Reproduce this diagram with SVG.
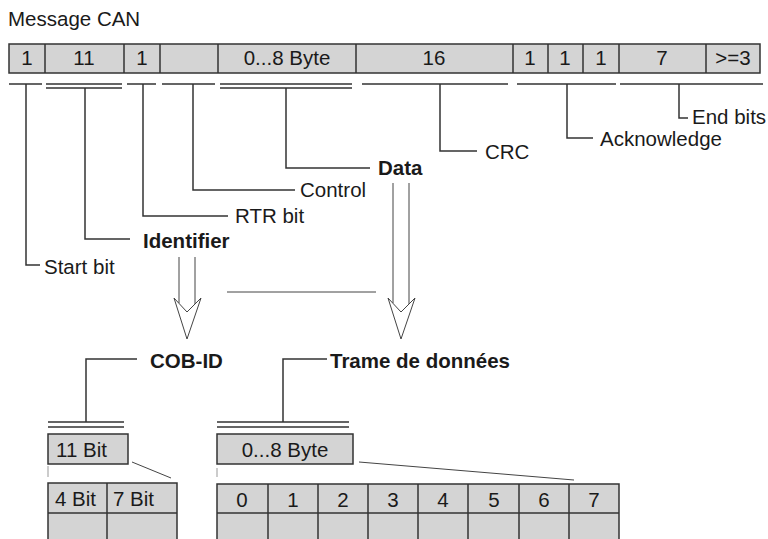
<svg xmlns="http://www.w3.org/2000/svg" width="768" height="539" viewBox="0 0 768 539">
<style>
text{font-family:"Liberation Sans",Arial,sans-serif;font-size:20.5px;fill:#1a1a1a}
.b{font-weight:bold}
.m{text-anchor:middle}
.cell{fill:#d4d4d4;stroke:#333;stroke-width:1.5}
.ln{fill:none;stroke:#333;stroke-width:1.5}
.th{fill:none;stroke:#444;stroke-width:1}
.ar{fill:#fff;stroke:#444;stroke-width:1}
.tk{stroke:#999;stroke-width:1}
</style>
<rect width="768" height="539" fill="#fff"/>
<text x="8" y="26">Message CAN</text>

<g id="frame">
<rect class="cell" x="9" y="44" width="751" height="29"/>
<path class="ln" d="M45 44V73M124 44V73M160 44V73M218 44V73M356 44V73M513 44V73M548 44V73M583 44V73M619 44V73M706 44V73"/>
<text class="m" x="27" y="65">1</text>
<text class="m" x="84" y="65">11</text>
<text class="m" x="142" y="65">1</text>
<text class="m" x="287" y="65">0...8 Byte</text>
<text class="m" x="434" y="65">16</text>
<text class="m" x="530" y="65">1</text>
<text class="m" x="565" y="65">1</text>
<text class="m" x="601" y="65">1</text>
<text class="m" x="662" y="65">7</text>
<text class="m" x="733" y="65">&gt;=3</text>
</g>

<g id="connectors">
<path class="ln" d="M9 84H42M46 84H122M46 88H122M127 84H156M162 84H215M220 84H352M220 88H352M362 84H508M517 84H616M620 84H763"/>
<path class="ln" d="M26 84V265H40"/>
<path class="ln" d="M85 88V239H130"/>
<path class="ln" d="M143 84V216H228"/>
<path class="ln" d="M193 84V190H295"/>
<path class="ln" d="M286 88V168H370"/>
<path class="ln" d="M440 84V151H477"/>
<path class="ln" d="M567 84V138H593"/>
<path class="ln" d="M679 84V118H688"/>
<path class="th" d="M227 292H376"/>
<path class="ln" d="M86 422V359H137"/>
<path class="ln" d="M283 422V359H327"/>
<path class="ln" d="M48 422H124M48 427H124M217 422H349M217 427H349"/>
<path class="th" d="M132 462L171 478M359 462L574 480"/>
<path class="tk" d="M48 466V477M217 468V477"/>
<path class="ar" d="M174 298L187 339L201 298L187 312Z"/>
<path class="th" d="M179 257V303M195 257V304"/>
<path class="ar" d="M388 298L401 339L415 298L401 312Z"/>
<path class="th" d="M393 183V303M409 183V304"/>
</g>

<g id="labels">
<text x="44" y="274">Start bit</text>
<text class="b" x="143" y="248">Identifier</text>
<text x="235" y="223">RTR bit</text>
<text x="300" y="197">Control</text>
<text class="b" x="378" y="175">Data</text>
<text x="485" y="159">CRC</text>
<text x="600" y="146">Acknowledge</text>
<text x="692" y="124">End bits</text>
<text class="b" x="150" y="368">COB-ID</text>
<text class="b" x="330" y="368">Trame de données</text>
</g>

<g id="cob-id">
<rect class="cell" x="48" y="434" width="80" height="30"/>
<text x="56" y="457">11 Bit</text>
<rect class="cell" x="48" y="483" width="129" height="70"/>
<path class="ln" d="M107 483V539M48 513H177"/>
<text x="55" y="506">4 Bit</text>
<text x="113" y="506">7 Bit</text>
</g>

<g id="trame">
<rect class="cell" x="217" y="434" width="136" height="30"/>
<text class="m" x="285" y="457">0...8 Byte</text>
<rect class="cell" x="217" y="484" width="402" height="70"/>
<path class="ln" d="M268 484V539M318 484V539M368 484V539M418 484V539M468 484V539M519 484V539M569 484V539M217 513H619"/>
<text class="m" x="242" y="507">0</text>
<text class="m" x="293" y="507">1</text>
<text class="m" x="343" y="507">2</text>
<text class="m" x="393" y="507">3</text>
<text class="m" x="443" y="507">4</text>
<text class="m" x="494" y="507">5</text>
<text class="m" x="544" y="507">6</text>
<text class="m" x="594" y="507">7</text>
</g>
</svg>
